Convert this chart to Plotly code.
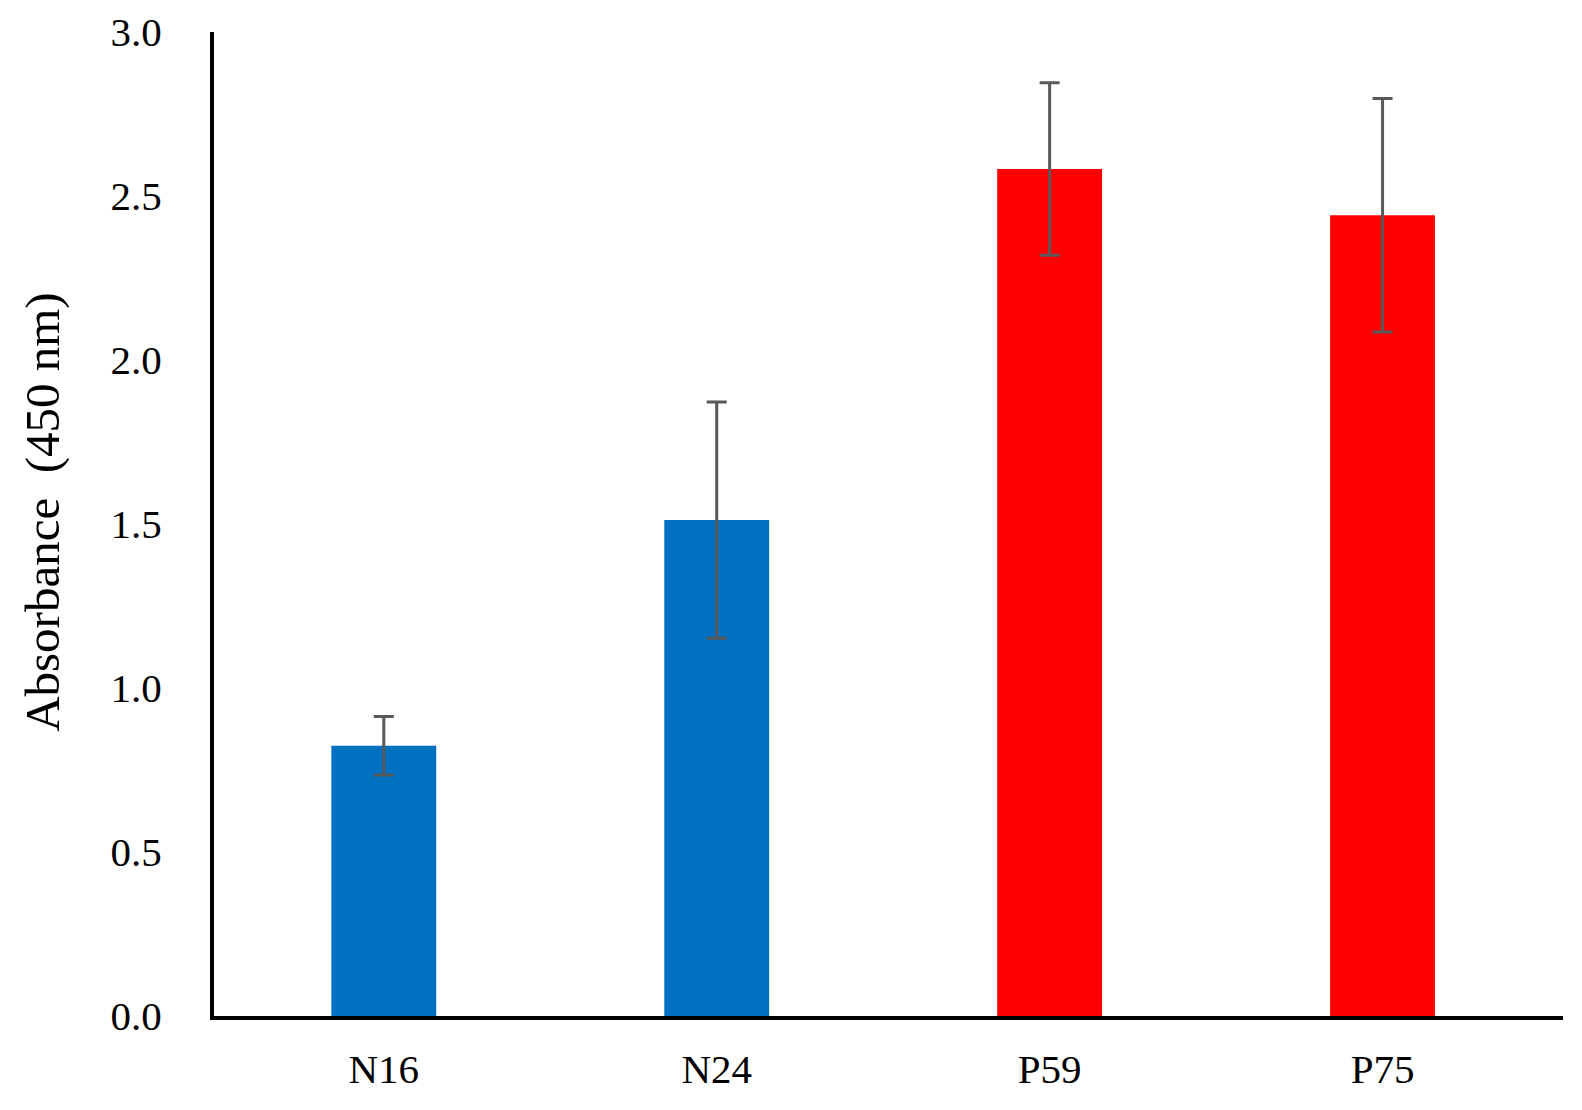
import plotly.graph_objects as go

categories = ["N16", "N24", "P59", "P75"]
values = [0.824, 1.512, 2.582, 2.441]
errors = [0.089, 0.36, 0.263, 0.356]
colors = ["#0070C0", "#0070C0", "#FF0000", "#FF0000"]
y_ticks = [0.0, 0.5, 1.0, 1.5, 2.0, 2.5, 3.0]
y_tick_labels = ["0.0", "0.5", "1.0", "1.5", "2.0", "2.5", "3.0"]
y_title = "Absorbance\u00a0\u00a0(450\u00a0nm)"

fig = go.Figure(
    go.Bar(
        x=categories,
        y=values,
        width=0.315,
        marker=dict(color=colors, line=dict(width=0)),
        error_y=dict(type="data", array=errors, visible=True,
                     color="#595959", thickness=3, width=10),
    )
)

font = "Liberation Serif, Times New Roman, serif"
fig.update_layout(
    width=1566, height=1094,
    margin=dict(l=206, r=11, t=24, b=86, autoexpand=False),
    plot_bgcolor="white", paper_bgcolor="white",
    showlegend=False,
    font=dict(family=font, color="black"),
)
fig.update_xaxes(
    range=[-0.51, 3.542],
    automargin=False,
    showline=True, linecolor="black", linewidth=4,
    showgrid=False, zeroline=False, ticks="",
    ticklabelstandoff=14,
    tickfont=dict(family=font, size=41, color="black"),
)
fig.update_yaxes(
    range=[0, 3.0],
    automargin=False,
    tickvals=y_ticks, ticktext=y_tick_labels,
    showline=True, linecolor="black", linewidth=4,
    showgrid=False, zeroline=False, ticks="",
    ticklabelstandoff=40,
    tickfont=dict(family=font, size=41, color="black"),
)
fig.add_annotation(
    text=y_title, textangle=-90, showarrow=False,
    xref="paper", yref="paper", x=-0.127, y=0.512,
    xanchor="center", yanchor="middle",
    font=dict(family=font, size=49, color="black"),
)

fig.write_html("out.html")
